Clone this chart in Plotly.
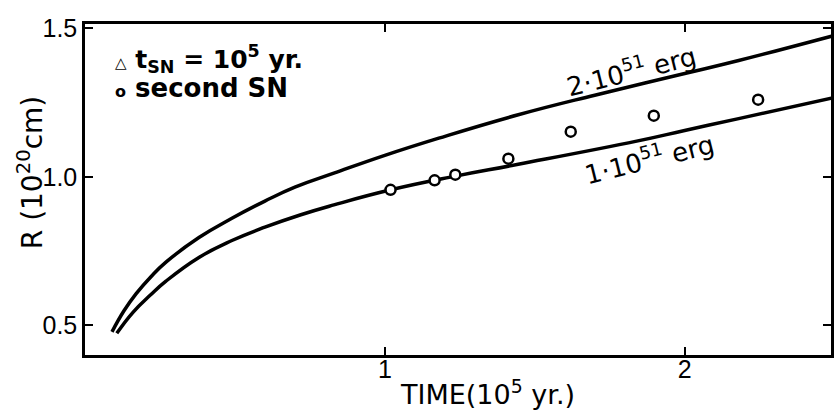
import plotly.graph_objects as go

# Data
t_upper = [0.09, 0.13, 0.17, 0.22, 0.27, 0.38, 0.49, 0.60, 0.70, 0.83, 1.00, 1.18, 1.445, 1.70, 2.00, 2.18, 2.49]
r_upper = [0.477, 0.548, 0.605, 0.663, 0.712, 0.795, 0.860, 0.918, 0.965, 1.012, 1.072, 1.130, 1.209, 1.275, 1.348, 1.392, 1.474]

t_lower = [0.106, 0.16, 0.22, 0.27, 0.38, 0.49, 0.60, 0.72, 0.83, 1.02, 1.24, 1.445, 1.84, 2.00, 2.18, 2.49]
r_lower = [0.472, 0.543, 0.603, 0.648, 0.728, 0.785, 0.830, 0.872, 0.905, 0.956, 1.003, 1.042, 1.120, 1.156, 1.196, 1.265]

t_sn2 = [1.019, 1.166, 1.235, 1.412, 1.620, 1.897, 2.245]
r_sn2 = [0.956, 0.988, 1.007, 1.061, 1.152, 1.206, 1.260]

x_ticks = [1, 2]
y_ticks = [0.5, 1.0, 1.5]
y_tick_labels = ["0.5", "1.0", "1.5"]

FONT = "DejaVu Sans"
TICKFONT = "Liberation Sans"

# plot area in page pixels
L, R, T, B = 85, 834, 24, 355
W, H = R - L, B - T


def px(x, y):
    return (x - L) / W, (B - y) / H


fig = go.Figure()
fig.add_trace(go.Scatter(x=t_upper, y=r_upper, mode="lines",
                         line=dict(color="black", width=3.5, shape="spline", smoothing=1.3),
                         showlegend=False))
fig.add_trace(go.Scatter(x=t_lower, y=r_lower, mode="lines",
                         line=dict(color="black", width=3.5, shape="spline", smoothing=1.3),
                         showlegend=False))
fig.add_trace(go.Scatter(x=t_sn2, y=r_sn2, mode="markers",
                         marker=dict(symbol="circle", size=10, color="white", line=dict(color="black", width=2.5)),
                         showlegend=False))

axis_common = dict(showline=True, linecolor="black", linewidth=2.5, mirror="ticks",
                   ticks="inside", ticklen=8, tickwidth=2, tickcolor="black",
                   showgrid=False, zeroline=False,
                   tickfont=dict(family=TICKFONT, size=25, color="black"))

fig.update_xaxes(range=[0, 2.488], tickvals=x_ticks, ticktext=[str(v) for v in x_ticks],
                 ticklabelstandoff=-10, **axis_common)
fig.update_yaxes(range=[0.399, 1.515], tickvals=y_ticks, ticktext=y_tick_labels, **axis_common)

annos = [
    dict(text="TIME(10<sup>5</sup> yr.)", x=489, y=392, size=27, angle=0),
    dict(text="R (10<sup>20</sup>cm)", x=30, y=173, size=28, angle=-90),
    dict(text="2·10<sup>51</sup> erg", x=633, y=70, size=26, angle=-14),
    dict(text="1·10<sup>51</sup> erg", x=651, y=158, size=26, angle=-14),
]
for a in annos:
    xp, yp = px(a["x"], a["y"])
    fig.add_annotation(text=a["text"], x=xp, y=yp, xref="paper", yref="paper",
                       xanchor="center", yanchor="middle", showarrow=False, textangle=a["angle"],
                       font=dict(family=FONT, size=a["size"], color="black"))

# legend-like text
xp, yp = px(113, 59)
fig.add_annotation(text="<span style='font-size:15px'>△</span> t<sub>SN</sub> = 10<sup>5</sup> yr.",
                   x=xp, y=yp, xref="paper", yref="paper", xanchor="left", yanchor="middle",
                   showarrow=False, font=dict(family=FONT, size=25, color="black", weight="bold"))
xp, yp = px(113, 88)
fig.add_annotation(text="<span style='font-size:16px'>o</span> second SN",
                   x=xp, y=yp, xref="paper", yref="paper", xanchor="left", yanchor="middle",
                   showarrow=False, font=dict(family=FONT, size=26, color="black", weight="bold"))

fig.update_layout(width=834, height=413, margin=dict(l=L, r=834 - R, t=T, b=413 - B),
                  plot_bgcolor="white", paper_bgcolor="white")

fig.write_html("out.html", config={"displayModeBar": False},
               post_script="document.body.style.margin='0';document.body.style.overflow='hidden';")
